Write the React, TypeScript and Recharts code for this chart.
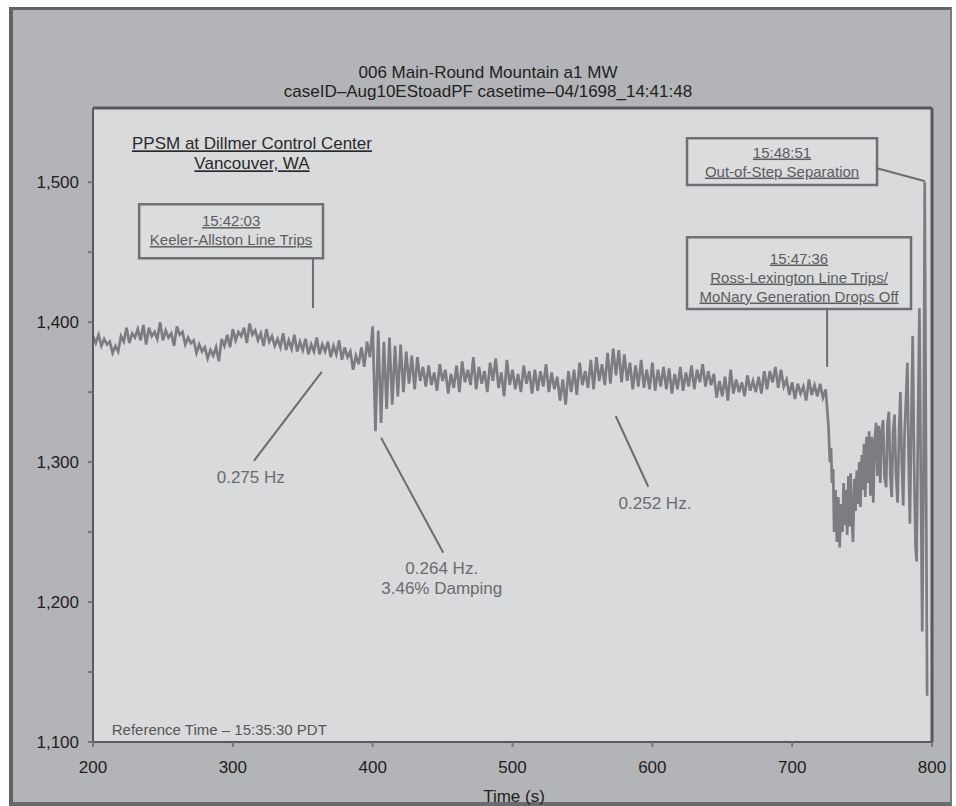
import {
  LineChart,
  Line,
  XAxis,
  YAxis,
  CartesianGrid,
  ReferenceLine,
  ReferenceArea,
  ReferenceDot,
} from 'recharts'

const FONT = '"Liberation Sans", Arial, Helvetica, sans-serif'

// MW samples on a 2 s grid, 200 s .. 724 s
const GRID_START = 200
const GRID_STEP = 2
const MW_GRID = [
  1390, 1385, 1391, 1383, 1388, 1384, 1386, 1378, 1383, 1379,
  1390, 1386, 1396, 1385, 1392, 1389, 1395, 1387, 1398, 1384,
  1396, 1390, 1393, 1388, 1400, 1387, 1394, 1389, 1392, 1383,
  1397, 1391, 1393, 1384, 1389, 1385, 1387, 1378, 1384, 1379,
  1382, 1374, 1380, 1376, 1382, 1372, 1388, 1383, 1391, 1382,
  1395, 1387, 1393, 1390, 1396, 1385, 1399, 1391, 1394, 1387,
  1392, 1383, 1395, 1386, 1390, 1383, 1388, 1382, 1392, 1380,
  1387, 1381, 1391, 1379, 1386, 1380, 1388, 1377, 1384, 1379,
  1389, 1377, 1384, 1379, 1386, 1375, 1383, 1377, 1387, 1373,
  1382, 1375, 1379, 1366, 1376, 1370, 1382, 1368, 1386, 1375,
  1397, 1322, 1394, 1328, 1386, 1338, 1389, 1341, 1383, 1347,
  1384, 1350, 1379, 1356, 1376, 1352, 1375, 1358, 1368, 1354,
  1369, 1355, 1364, 1351, 1370, 1358, 1366, 1349, 1363, 1353,
  1369, 1350, 1372, 1357, 1366, 1355, 1375, 1352, 1368, 1356,
  1365, 1350, 1371, 1358, 1374, 1353, 1364, 1347, 1373, 1355,
  1366, 1352, 1363, 1350, 1369, 1356, 1365, 1349, 1366, 1351,
  1365, 1354, 1370, 1350, 1364, 1352, 1361, 1344, 1359, 1341,
  1365, 1350, 1366, 1348, 1371, 1355, 1365, 1353, 1373, 1352,
  1375, 1358, 1370, 1355, 1378, 1356, 1381, 1362, 1380, 1357,
  1377, 1358, 1371, 1352, 1369, 1354, 1373, 1353, 1366, 1352,
  1371, 1351, 1366, 1354, 1368, 1352, 1367, 1349, 1363, 1352,
  1368, 1351, 1364, 1354, 1369, 1352, 1366, 1357, 1370, 1354,
  1365, 1355, 1363, 1346, 1358, 1347, 1361, 1344, 1366, 1349,
  1359, 1350, 1357, 1347, 1362, 1351, 1358, 1350, 1361, 1349,
  1365, 1352, 1365, 1357, 1368, 1353, 1366, 1354, 1359, 1348,
  1357, 1345, 1356, 1349, 1354, 1344, 1359, 1348, 1355, 1347,
  1356, 1346, 1352,
]

// after the Ross-Lexington trip the swings are faster than the grid, so irregular times
const TAIL_T = [
  726, 727, 727.8, 728.5, 729.3, 730, 731, 732, 733, 734,
  735, 736, 736.8, 737.6, 738.5, 739.3, 740.2, 741, 741.8, 742.6,
  743.5, 744.5, 745.3, 746.2, 747, 748, 748.8, 749.8, 750.6, 751.4,
  752.3, 753.2, 754, 755, 756, 757, 758, 759, 760, 761,
  762, 763, 764, 765, 766, 767.2, 768.2, 769.2, 770.2, 771.2,
  772.2, 773.2, 774.2, 775.4, 776.4, 777.4, 778.4, 779.4, 780.4, 781.4,
  782.4, 783.3, 784.2, 785.2, 786.2, 787.2, 788.2, 789, 790, 791,
  792, 793, 794, 794.8, 796.5,
]
const TAIL_MW = [
  1325, 1300, 1310, 1285, 1295, 1250, 1280, 1243, 1275, 1239,
  1270, 1250, 1285, 1255, 1280, 1248, 1290, 1254, 1292, 1262,
  1243, 1288, 1265, 1294, 1270, 1300, 1268, 1305, 1280, 1313,
  1275, 1318, 1285, 1322, 1276, 1318, 1271, 1315, 1328, 1290,
  1326, 1285, 1322, 1330, 1290, 1282, 1328, 1336, 1290, 1275,
  1322, 1334, 1292, 1271, 1320, 1350, 1300, 1269, 1320, 1345,
  1371, 1300, 1256, 1330, 1390, 1300, 1240, 1229, 1330, 1410,
  1290, 1179, 1300, 1500, 1133,
]

const X_TICKS = [200, 300, 400, 500, 600, 700, 800]
const Y_TICKS = [1100, 1150, 1200, 1250, 1300, 1350, 1400, 1450, 1500]

const data = [
  ...MW_GRID.map((mw, i) => ({ t: GRID_START + i * GRID_STEP, mw })),
  ...TAIL_T.map((t, i) => ({ t, mw: TAIL_MW[i] })),
]

// event boxes, in data units
const BOXES = [
  { x1: 233, x2: 364.5, y1: 1445.7, y2: 1484.3, rows: ['15:42:03', 'Keeler-Allston Line Trips'], shift: -1 },
  { x1: 624.8, x2: 760.7, y1: 1497.9, y2: 1531.4, rows: ['15:48:51', 'Out-of-Step Separation'], shift: 0 },
  { x1: 624.8, x2: 785, y1: 1409.3, y2: 1460.7, rows: ['15:47:36', 'Ross-Lexington Line Trips/', 'MoNary Generation Drops Off'], shift: 4 },
]

const LEADERS = [
  [{ x: 357.3, y: 1445.7 }, { x: 357.3, y: 1410 }],
  [{ x: 760.7, y: 1510 }, { x: 795, y: 1500.7 }],
  [{ x: 725, y: 1409.3 }, { x: 725, y: 1368 }],
  [{ x: 315.1, y: 1300.9 }, { x: 363.6, y: 1364.5 }],
  [{ x: 406, y: 1317.4 }, { x: 450.5, y: 1235.2 }],
  [{ x: 573.8, y: 1332.9 }, { x: 597.1, y: 1282.4 }],
]

const NOTES = [
  { x: 312.8, y: 1289.3, rows: ['0.275 Hz'] },
  { x: 449.4, y: 1217.4, rows: ['0.264 Hz.', '3.46% Damping'] },
  { x: 601.9, y: 1270.7, rows: ['0.252 Hz.'] },
]

const TextBlock = (props: any) => {
  const vb = props.viewBox ?? {}
  const x = vb.x ?? 0
  const y = vb.y ?? 0
  const w = vb.width ?? 0
  const h = vb.height ?? 0
  const rows: string[] = props.rows
  const size = props.txtSize ?? 15
  const lh = props.lh ?? 19
  const anchor = props.anchor ?? 'middle'
  const cx = anchor === 'start' ? x : x + w / 2
  const cy = y + h / 2 + (props.shiftY ?? 0)
  const first = cy - ((rows.length - 1) * lh) / 2 + size * 0.36
  return (
    <text
      textAnchor={anchor}
      fontFamily={FONT}
      fontSize={size}
      fill={props.txtColor}
      style={{ textDecoration: props.ul ? 'underline' : 'none' }}
    >
      {rows.map((r, i) => (
        <tspan key={i} x={cx} y={first + i * lh}>
          {r}
        </tspan>
      ))}
    </text>
  )
}

export default function App() {
  const fmtY = (v: number) => (v % 100 === 0 ? v.toLocaleString('en-US') : '')

  return (
    <div style={{ position: 'absolute', left: 0, top: 0, width: 956, height: 806, background: '#fff', overflow: 'hidden' }}>
      {/* grey panel behind the plot */}
      <div
        style={{
          position: 'absolute',
          left: 9,
          top: 7,
          width: 943,
          height: 799,
          boxSizing: 'border-box',
          background: '#b3b4b7',
          borderLeft: '4px solid #626366',
          borderTop: '3px solid #626366',
          borderRight: '2px solid #7a7b7e',
          borderBottom: '4px solid #6a6b6e',
        }}
      />

      <div style={{ position: 'absolute', left: 0, top: 0 }}>
        <LineChart width={956} height={806} data={data} margin={{ top: 108, right: 24, bottom: 24, left: 33 }}>
          <CartesianGrid horizontal={false} vertical={false} fill="#d9dadc" />
          <XAxis
            dataKey="t"
            type="number"
            domain={[200, 800]}
            ticks={X_TICKS}
            height={40}
            tickSize={5}
            tickMargin={14}
            axisLine={{ stroke: '#58595c', strokeWidth: 2 }}
            tickLine={{ stroke: '#75767a', strokeWidth: 2 }}
            tick={{ fill: '#1e1e1e', fontSize: 17, fontFamily: FONT }}
          />
          <YAxis
            type="number"
            domain={[1100, 1553]}
            allowDataOverflow
            ticks={Y_TICKS}
            tickFormatter={fmtY}
            width={60}
            tickSize={5}
            tickMargin={9}
            axisLine={{ stroke: '#58595c', strokeWidth: 2 }}
            tickLine={{ stroke: '#75767a', strokeWidth: 2 }}
            tick={{ fill: '#1e1e1e', fontSize: 17, fontFamily: FONT }}
          />

          {/* top and right frame of the plot */}
          <ReferenceLine y={1553} stroke="#58595c" strokeWidth={3} />
          <ReferenceLine x={800} stroke="#58595c" strokeWidth={3} />

          <ReferenceDot
            x={313.7}
            y={1520.7}
            r={0}
            fill="none"
            stroke="none"
            label={<TextBlock rows={['PPSM at Dillmer Control Center', 'Vancouver, WA']} txtSize={17} lh={20} txtColor="#2a2a2b" ul />}
          />
          <ReferenceDot
            x={213.4}
            y={1108.6}
            r={0}
            fill="none"
            stroke="none"
            label={<TextBlock rows={['Reference Time – 15:35:30 PDT']} txtSize={15} anchor="start" txtColor="#55565a" />}
          />

          {BOXES.map((b, i) => (
            <ReferenceArea
              key={`box-${i}`}
              x1={b.x1}
              x2={b.x2}
              y1={b.y1}
              y2={b.y2}
              fill="#dbdcde"
              fillOpacity={1}
              stroke="#6f7073"
              strokeWidth={2.5}
              label={<TextBlock rows={b.rows} txtSize={15} lh={19} shiftY={b.shift} txtColor="#5c5d60" ul />}
            />
          ))}

          {LEADERS.map((seg, i) => (
            <ReferenceLine key={`lead-${i}`} segment={seg} stroke="#6c6d70" strokeWidth={2} />
          ))}

          {NOTES.map((n, i) => (
            <ReferenceDot
              key={`note-${i}`}
              x={n.x}
              y={n.y}
              r={0}
              fill="none"
              stroke="none"
              label={<TextBlock rows={n.rows} txtSize={17} lh={19.5} txtColor="#6a6b6e" />}
            />
          ))}

          <Line
            type="linear"
            dataKey="mw"
            stroke="#7b7d81"
            strokeWidth={2.7}
            strokeLinejoin="miter"
            dot={false}
            activeDot={false}
            isAnimationActive={false}
          />
        </LineChart>
      </div>

      <div
        style={{
          position: 'absolute',
          left: 188,
          top: 63,
          width: 600,
          textAlign: 'center',
          fontFamily: FONT,
          fontSize: 17,
          lineHeight: '19px',
          color: '#222',
        }}
      >
        006 Main-Round Mountain a1 MW
        <br />
        caseID–Aug10EStoadPF casetime–04/1698_14:41:48
      </div>

      <div
        style={{
          position: 'absolute',
          left: 414,
          top: 787,
          width: 200,
          textAlign: 'center',
          fontFamily: FONT,
          fontSize: 17,
          lineHeight: '19px',
          color: '#222',
        }}
      >
        Time (s)
      </div>
    </div>
  )
}
